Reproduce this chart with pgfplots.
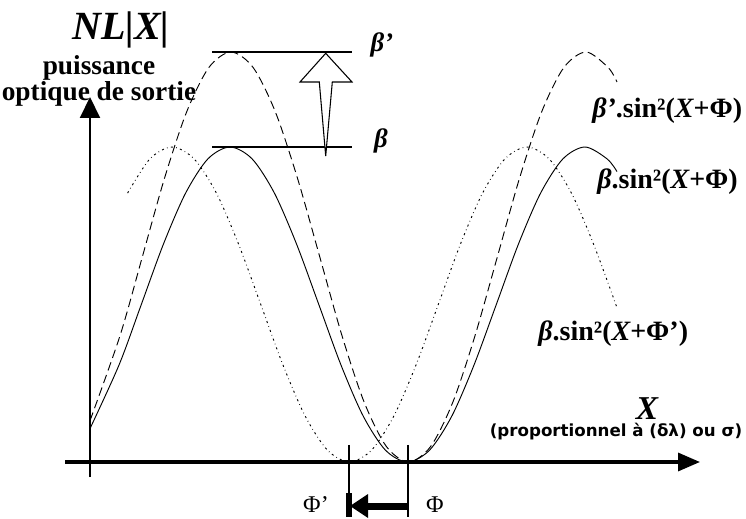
\documentclass[border=0pt]{standalone}
\usepackage{fontspec}
\setmainfont{Liberation Serif}
\newfontfamily\notesans{DejaVu Sans}
\usepackage{pgfplots}
\usepackage{pgfplotstable}
\pgfplotsset{compat=1.18}
\usetikzlibrary{arrows.meta}

% beta . sin^2(X + Phi)
\pgfplotstableread{
x y
0 33.4
29.1 97.2
51.3 157.5
73.4 217.8
95.6 268.9
117.8 303.0
140 315
162.2 303.0
184.4 268.9
206.6 217.8
228.8 157.5
250.9 97.2
273.1 46.1
295.3 12.0
317.5 0
339.7 12.0
361.9 46.1
384.1 97.2
406.3 157.5
428.4 217.8
450.6 268.9
472.8 303.0
495 315
517.2 303.0
527 290.4
}\solid

% beta' . sin^2(X + Phi)
\pgfplotstableread{
x y
0 41.3
30.1 126.6
52.3 205.0
74.4 283.4
96.6 350.0
118.8 394.4
141 410
163.2 394.4
185.4 350.0
207.6 283.4
229.8 205.0
251.9 126.6
274.1 60.0
296.3 15.6
318.5 0
340.7 15.6
362.9 60.0
385.1 126.6
407.3 205.0
429.4 283.4
451.6 350.0
473.8 394.4
496 410
518.2 394.4
527 380
}\dashedc

% beta . sin^2(X + Phi')
\pgfplotstableread{
x y
37.6 268.9
59.8 303.0
82 315
104.2 303.0
126.4 268.9
148.6 217.8
170.8 157.5
192.9 97.2
215.1 46.1
237.3 12.0
259.5 0
281.7 12.0
303.9 46.1
326.1 97.2
348.3 157.5
370.4 217.8
392.6 268.9
414.8 303.0
437 315
459.2 303.0
481.4 268.9
503.6 217.8
527 154.2
}\dottedc

\newcommand{\bi}[1]{{\bfseries\itshape #1}}

\begin{document}
\begin{tikzpicture}
\begin{axis}[x=0.75pt,y=0.75pt,xmin=-90,xmax=656,ymin=-55,ymax=462,
  hide axis,clip=false]
\path (rel axis cs:0,0) rectangle (rel axis cs:1,1);

% curves
\addplot[black,line width=0.7pt,smooth] table {\solid};
\addplot[black,line width=0.7pt,smooth,dash pattern=on 6.5pt off 3.5pt] table {\dashedc};
\addplot[black,line width=0.7pt,smooth,dash pattern=on 1.5pt off 2.5pt on 0.5pt off 2.5pt] table {\dottedc};

% axes
\draw[line width=2.5pt,-{Triangle[length=16.5pt,width=13.5pt]}] (axis cs:-25,0) -- (axis cs:610,0);
\draw[line width=1.5pt,-{Triangle[length=15.75pt,width=15pt]}] (axis cs:0,-15) -- (axis cs:0,365);

% levels beta and beta'
\draw[line width=1.1pt] (axis cs:122,410) -- (axis cs:262,410);
\draw[line width=1.1pt] (axis cs:122,315) -- (axis cs:262,315);
\draw[line width=0.8pt,fill=white] (axis cs:235.7,408.7) -- (axis cs:262,380) -- (axis cs:242.3,380)
  -- (axis cs:235.7,306) -- (axis cs:229.3,380) -- (axis cs:210,380) -- cycle;

% phase shift Phi -> Phi'
\draw[line width=1.3pt] (axis cs:259,17) -- (axis cs:259,-55);
\draw[line width=1.3pt] (axis cs:317.7,17) -- (axis cs:317.7,-55);
\fill (axis cs:255.7,-31) rectangle (axis cs:261.7,-55);
\draw[line width=5.25pt] (axis cs:276,-44) -- (axis cs:317.7,-44);
\fill (axis cs:260,-44) -- (axis cs:278,-32) -- (axis cs:278,-56) -- cycle;
\node[font=\fontsize{18}{20}\selectfont] at (axis cs:226,-43) {Φ’};
\node[font=\fontsize{18}{20}\selectfont] at (axis cs:345,-43) {Φ};

% axis titles
\node[font=\fontsize{30}{34}\selectfont\bfseries\itshape] at (axis cs:31,432) {NL|X|};
\node[font=\fontsize{20.5}{14.5}\selectfont\bfseries,align=center,inner sep=0pt] at (axis cs:9,381)
  {puissance\\optique de sortie};
\node[font=\fontsize{25}{28}\selectfont\bfseries\itshape,anchor=base,inner sep=0pt] at (axis cs:557,42) {X};
\node[font=\notesans\fontsize{12.5}{14}\selectfont\bfseries,anchor=base,inner sep=0pt] at (axis cs:526,25)
  {(proportionnel à (δλ) ou σ)};

% level labels
\node[font=\fontsize{20}{24}\selectfont\bfseries\itshape] at (axis cs:292,417) {β’};
\node[font=\fontsize{20}{24}\selectfont\bfseries\itshape] at (axis cs:291,321) {β};

% curve labels
\node[font=\fontsize{21}{24}\selectfont\bfseries,anchor=west,inner sep=0pt] at (axis cs:502,351) {\bi{β’}.sin²(\bi{X}+Φ)};
\node[font=\fontsize{21}{24}\selectfont\bfseries,anchor=west,inner sep=0pt] at (axis cs:507,280) {\bi{β}.sin²(\bi{X}+Φ)};
\node[font=\fontsize{21}{24}\selectfont\bfseries,anchor=west,inner sep=0pt] at (axis cs:448,128) {\bi{β}.sin²(\bi{X}+Φ’)};
\end{axis}
\end{tikzpicture}
\end{document}
